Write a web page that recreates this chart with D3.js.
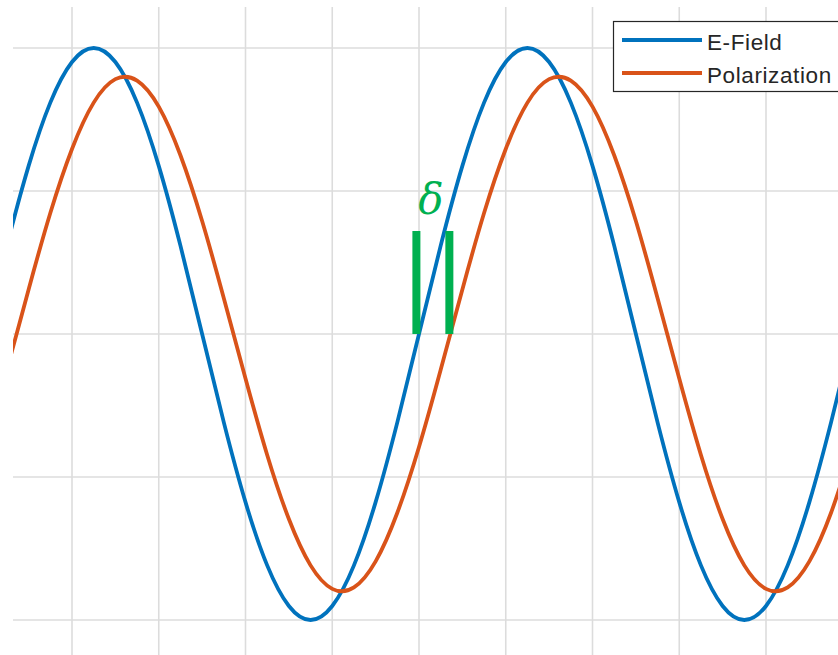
<!DOCTYPE html>
<html>
<head>
<meta charset="utf-8">
<script src="https://cdn.jsdelivr.net/npm/d3@7"></script>
<style>
  html, body { margin: 0; padding: 0; background: #fff; }
  svg { display: block; }
</style>
</head>
<body>
<svg id="chart" width="838" height="655"></svg>
<script>
// sample positions (grid units) and values
const xs = [0, 0.25, 0.5, 0.75, 1, 1.25, 1.5, 1.75, 2, 2.25, 2.5, 2.75, 3, 3.25, 3.5, 3.75,
  4, 4.25, 4.5, 4.75, 5, 5.25, 5.5, 5.75, 6, 6.25, 6.5, 6.75, 7, 7.25, 7.5, 7.75,
  8, 8.25, 8.5, 8.75, 9, 9.25, 9.5, 9.75, 10];
const efield = [0, 0.309, 0.588, 0.809, 0.951, 1, 0.951, 0.809, 0.588, 0.309,
  0, -0.309, -0.588, -0.809, -0.951, -1, -0.951, -0.809, -0.588, -0.309,
  0, 0.309, 0.588, 0.809, 0.951, 1, 0.951, 0.809, 0.588, 0.309,
  0, -0.309, -0.588, -0.809, -0.951, -1, -0.951, -0.809, -0.588, -0.309, 0];
const polarization = [-0.395, -0.125, 0.156, 0.423, 0.647, 0.809, 0.891, 0.886, 0.795, 0.625,
  0.395, 0.125, -0.156, -0.423, -0.647, -0.809, -0.891, -0.886, -0.795, -0.625,
  -0.395, -0.125, 0.156, 0.423, 0.647, 0.809, 0.891, 0.886, 0.795, 0.625,
  0.395, 0.125, -0.156, -0.423, -0.647, -0.809, -0.891, -0.886, -0.795, -0.625, -0.395];
const xTicks = [1, 2, 3, 4, 5, 6, 7, 8, 9];
const yTicks = [-1, -0.5, 0, 0.5, 1];
const seriesNames = ["E-Field", "Polarization"];
const seriesColors = ["#0072BD", "#D95319"];
// phase lag markers: zero crossings of the two curves
const delta = [4.97, 5.35];

const svg = d3.select("#chart");
const plot = {left: 13, top: 7, right: 838, bottom: 655};

const x = d3.scaleLinear().domain([1, 9]).range([72, 766]);
const y = d3.scaleLinear().domain([-1, 1]).range([620, 48]);

svg.append("defs").append("clipPath").attr("id", "clip")
    .append("rect")
    .attr("x", plot.left).attr("y", plot.top)
    .attr("width", plot.right - plot.left).attr("height", plot.bottom - plot.top);

// grid
const grid = svg.append("g").attr("stroke", "#dcdcdc").attr("stroke-width", 1.6);
grid.selectAll("line.v").data(xTicks).join("line")
    .attr("class", "v")
    .attr("x1", d => x(d)).attr("x2", d => x(d))
    .attr("y1", plot.top).attr("y2", plot.bottom);
grid.selectAll("line.h").data(yTicks).join("line")
    .attr("class", "h")
    .attr("x1", plot.left).attr("x2", plot.right)
    .attr("y1", d => y(d)).attr("y2", d => y(d));

// curves
const line = d3.line()
    .x(d => x(d[0]))
    .y(d => y(d[1]))
    .curve(d3.curveNatural);

const curves = svg.append("g").attr("clip-path", "url(#clip)");
[efield, polarization].forEach((vals, i) => {
    curves.append("path")
        .datum(xs.map((v, j) => [v, vals[j]]))
        .attr("fill", "none")
        .attr("stroke", seriesColors[i])
        .attr("stroke-width", 3.8)
        .attr("stroke-linejoin", "round")
        .attr("d", line);
});

// delta markers
const green = "#00B050";
svg.append("g").selectAll("line").data(delta).join("line")
    .attr("x1", d => x(d)).attr("x2", d => x(d))
    .attr("y1", y(0.36)).attr("y2", y(0))
    .attr("stroke", green)
    .attr("stroke-width", 8);
svg.append("text")
    .attr("x", (x(delta[0]) + x(delta[1])) / 2 - 2)
    .attr("y", 214)
    .attr("text-anchor", "middle")
    .attr("fill", green)
    .attr("font-family", "'DejaVu Serif', serif")
    .attr("font-style", "italic")
    .attr("font-size", 42)
    .text("δ");

// legend
const legend = svg.append("g");
legend.append("rect")
    .attr("x", 613.5).attr("y", 21.5)
    .attr("width", 240).attr("height", 70)
    .attr("fill", "#fff")
    .attr("stroke", "#262626")
    .attr("stroke-width", 1.2);
seriesNames.forEach((name, i) => {
    const ly = 40 + i * 33;
    legend.append("line")
        .attr("x1", 622).attr("x2", 702)
        .attr("y1", ly).attr("y2", ly)
        .attr("stroke", seriesColors[i])
        .attr("stroke-width", 4);
    legend.append("text")
        .attr("x", 707).attr("y", ly + 10)
        .attr("font-family", "'Liberation Sans', Arial, sans-serif")
        .attr("font-size", 22.5)
        .attr("letter-spacing", 0.6)
        .attr("fill", "#262626")
        .text(name);
});
</script>
</body>
</html>
